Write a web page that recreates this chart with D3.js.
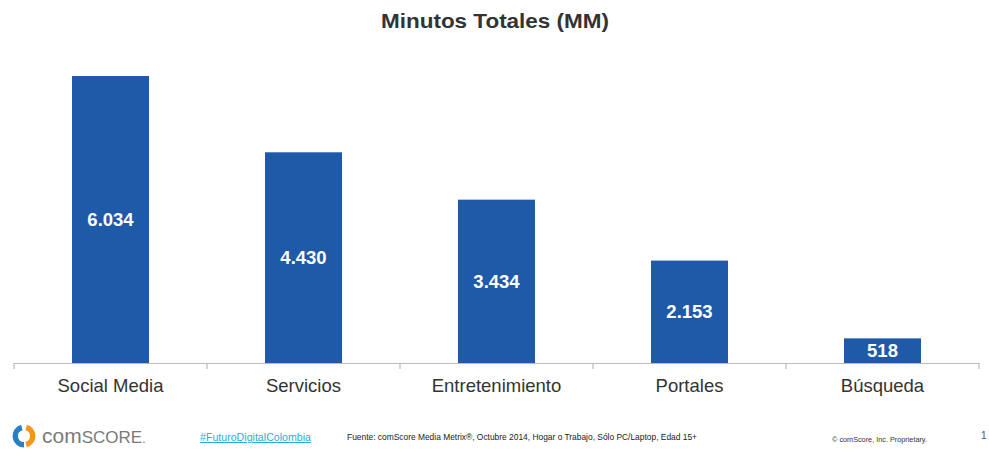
<!DOCTYPE html>
<html><head><meta charset="utf-8">
<script src="https://cdn.jsdelivr.net/npm/d3@7"></script>
<style>body{margin:0;background:#fff;}svg{display:block;font-family:"Liberation Sans",Arial,sans-serif;}</style>
</head><body>
<svg id="c" width="989" height="457"></svg>
<script>
const categories = ["Social Media","Servicios","Entretenimiento","Portales","Búsqueda"];
const values = [6034,4430,3434,2153,518];
const valueLabels = ["6.034","4.430","3.434","2.153","518"];
const title = "Minutos Totales (MM)";

const svg = d3.select("#c");
const x = d3.scaleBand().domain(categories).range([14,979]).paddingInner(0).paddingOuter(0);
const y = d3.scaleLinear().domain([0,6034]).range([363,76]);
const bw = 77;

svg.append("text").attr("x",495).attr("y",28).attr("text-anchor","middle")
  .attr("font-size",21).attr("font-weight","bold").attr("fill","#333")
  .attr("textLength",228).attr("lengthAdjust","spacingAndGlyphs").text(title);

svg.selectAll("rect.bar").data(values).enter().append("rect").attr("class","bar")
  .attr("x",(d,i)=>x(categories[i])+x.bandwidth()/2-bw/2)
  .attr("y",d=>y(d)).attr("width",bw).attr("height",d=>y(0)-y(d)).attr("fill","#1f5aa8");

svg.selectAll("text.vl").data(values).enter().append("text").attr("class","vl")
  .attr("x",(d,i)=>x(categories[i])+x.bandwidth()/2)
  .attr("y",d=>(y(d)+y(0))/2).attr("dy","0.36em").attr("text-anchor","middle")
  .attr("font-size",18.5).attr("font-weight","bold").attr("fill","#fff")
  .text((d,i)=>valueLabels[i]);

// axis
const ax = svg.append("g");
ax.append("line").attr("x1",14).attr("x2",979).attr("y1",363.5).attr("y2",363.5).attr("stroke","#bbb").attr("stroke-width",1.2);
const ticks = categories.map(c=>x(c)).concat([979]);
ax.selectAll("line.t").data(ticks).enter().append("line").attr("class","t")
  .attr("x1",d=>d).attr("x2",d=>d).attr("y1",363).attr("y2",369).attr("stroke","#bbb").attr("stroke-width",1.2);
ax.selectAll("text.cl").data(categories).enter().append("text").attr("class","cl")
  .attr("x",d=>x(d)+x.bandwidth()/2).attr("y",392).attr("text-anchor","middle")
  .attr("font-size",18.5).attr("fill","#333").text(d=>d);

// footer logo
const lg = svg.append("g").attr("transform","translate(24,436)");
const arc = d3.arc();
lg.append("path").attr("d",arc({innerRadius:6,outerRadius:11.5,startAngle:Math.PI*0.08,endAngle:Math.PI*0.92})).attr("fill","#f7941d");
lg.append("path").attr("d",arc({innerRadius:6,outerRadius:11.5,startAngle:Math.PI*1.0,endAngle:Math.PI*1.92})).attr("fill","#2a7fc1");
const cs = svg.append("text").attr("x",42).attr("y",443).attr("fill","#7a7a7a");
cs.append("tspan").attr("font-size",21).text("com");
cs.append("tspan").attr("font-size",17).text("SCORE");
cs.append("tspan").attr("font-size",12).text(".");
svg.append("text").attr("x",200).attr("y",441).attr("font-size",10.5).attr("fill","#29abe2")
  .attr("text-decoration","underline").attr("textLength",111).attr("lengthAdjust","spacingAndGlyphs").text("#FuturoDigitalColombia");
svg.append("text").attr("x",347).attr("y",440).attr("font-size",8.4).attr("fill","#222")
  .attr("textLength",350).attr("lengthAdjust","spacingAndGlyphs")
  .text("Fuente: comScore Media Metrix®, Octubre 2014, Hogar o Trabajo, Sólo PC/Laptop, Edad 15+");
svg.append("text").attr("x",832).attr("y",442).attr("font-size",7.2).attr("fill","#333")
  .attr("textLength",95).attr("lengthAdjust","spacingAndGlyphs").text("© comScore, Inc. Proprietary.");
svg.append("text").attr("x",981).attr("y",439).attr("font-size",10).attr("fill","#555").text("1");
</script>
</body></html>
